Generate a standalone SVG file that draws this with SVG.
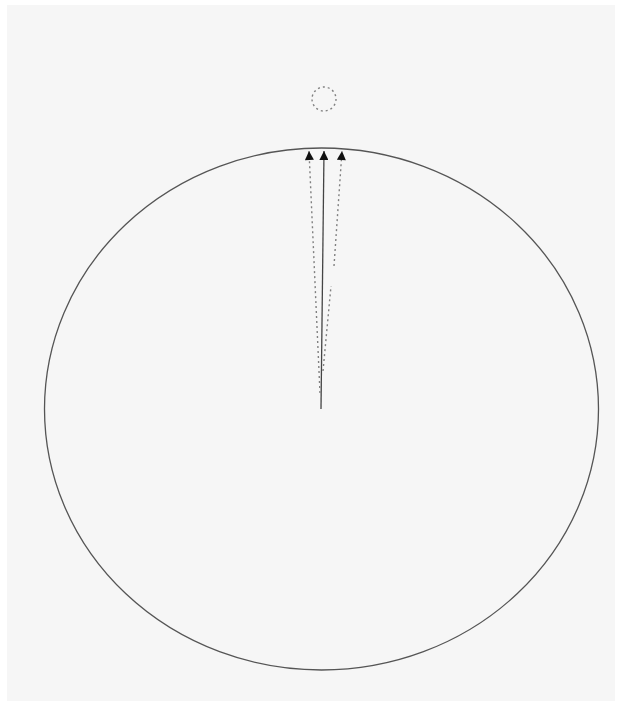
<svg xmlns="http://www.w3.org/2000/svg" width="621" height="701" viewBox="0 0 621 701">
<style>
.outline{fill:none;stroke:#555;stroke-width:1.3}
.dash{fill:none;stroke:#808080;stroke-width:1.4;stroke-dasharray:2 3}
.solid{fill:none;stroke:#444;stroke-width:1.3}
</style>
<defs>
<marker id="ah" viewBox="0 0 10 10" refX="10" refY="5" markerWidth="14" markerHeight="9" markerUnits="userSpaceOnUse" orient="auto">
<path d="M0,0 L10,5 L0,10 z" fill="#111"/>
</marker>
</defs>
<rect x="0" y="0" width="621" height="701" fill="#ffffff"/>
<rect x="7" y="5" width="608" height="696" fill="#f6f6f6"/>
<g id="node-outer">
<ellipse class="outline" cx="321.5" cy="409" rx="277" ry="261"/>
</g>
<g id="node-small">
<circle class="dash" cx="324" cy="99" r="12"/>
</g>
<g id="connectors">
<path class="solid" d="M321,409 L324,151" marker-end="url(#ah)"/>
<path class="dash" d="M320,393 L309,151" marker-end="url(#ah)"/>
<path class="dash" d="M323,371 L331,286 M334,266 L342,151" marker-end="url(#ah)"/>
</g>
</svg>
